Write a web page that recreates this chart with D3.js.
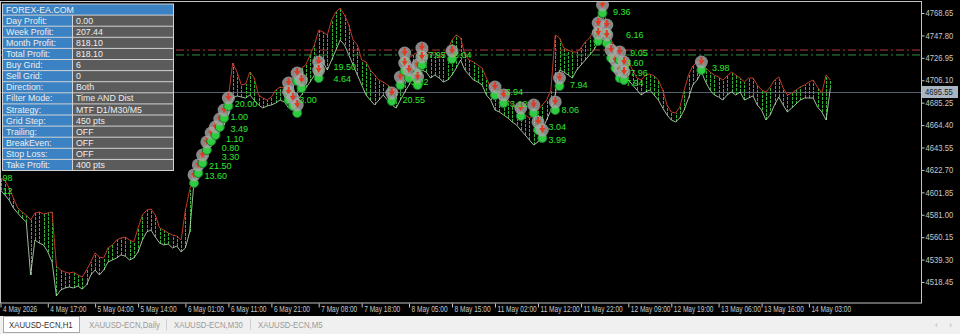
<!DOCTYPE html>
<html>
<head>
<meta charset="utf-8">
<script src="https://cdn.jsdelivr.net/npm/d3@7"></script>
<style>
body { margin: 0; background: #000; }
svg { display: block; }
.ax text { font-family: 'Liberation Sans', Arial, sans-serif; font-size: 8.5px; fill: #c8c8c8; }
</style>
</head>
<body>
<div id="chart"></div>
<script>
var sessions = [
  ['4 May', 6, 23], ['5 May', 0, 23], ['6 May', 0, 23], ['7 May', 0, 23], ['8 May', 0, 23],
  ['11 May', 1, 23], ['12 May', 0, 23], ['13 May', 0, 23], ['14 May', 0, 8]
]

var highs = [
  4615.2, 4613.3, 4605.9, 4596.6, 4587.3, 4583.6, 4580.8, 4576.1, 4582.6, 4583.6,
  4581.7, 4582.6, 4583.6, 4533.3, 4529.6, 4527.7, 4526.8, 4527.7, 4525.0, 4523.1,
  4529.6, 4537.0, 4545.4, 4541.7, 4540.8, 4550.1, 4552.9, 4557.5, 4559.4, 4560.3,
  4557.5, 4555.7, 4568.7, 4580.8, 4585.4, 4586.3, 4580.8, 4568.7, 4566.8, 4564.0,
  4562.2, 4561.2, 4557.5, 4585.4, 4604.0, 4622.6, 4627.3, 4641.2, 4650.5, 4659.8,
  4667.3, 4671.0, 4680.3, 4690.5, 4722.1, 4713.8, 4701.7, 4702.6, 4713.8, 4708.2,
  4692.4, 4689.6, 4687.7, 4690.5, 4697.0, 4699.8, 4698.9, 4701.7, 4706.3, 4715.6,
  4717.5, 4720.3, 4729.6, 4738.9, 4752.8, 4751.0, 4748.2, 4762.1, 4769.6, 4773.3,
  4766.8, 4757.5, 4743.5, 4738.9, 4724.9, 4723.1, 4715.6, 4711.0, 4706.3, 4704.5,
  4701.7, 4698.9, 4695.2, 4706.3, 4715.6, 4726.8, 4729.6, 4732.4, 4736.1, 4734.2,
  4729.6, 4732.4, 4726.8, 4729.6, 4734.2, 4743.5, 4748.2, 4745.4, 4729.6, 4724.9,
  4723.1, 4720.3, 4717.5, 4708.2, 4698.9, 4695.2, 4692.4, 4689.6, 4687.7, 4683.1,
  4680.3, 4676.6, 4673.8, 4671.0, 4673.8, 4678.4, 4683.1, 4687.7, 4697.0, 4748.2,
  4745.4, 4736.1, 4734.2, 4732.4, 4732.4, 4736.1, 4741.7, 4745.4, 4752.8, 4766.8,
  4776.1, 4757.5, 4743.5, 4736.1, 4732.4, 4726.8, 4723.1, 4715.6, 4708.2, 4706.3,
  4711.0, 4711.9, 4710.1, 4706.3, 4697.0, 4683.1, 4676.6, 4675.6, 4681.2, 4697.0,
  4711.0, 4719.4, 4723.1, 4724.9, 4717.5, 4713.8, 4711.0, 4709.1, 4706.3, 4710.1,
  4713.8, 4711.0, 4708.2, 4704.5, 4708.2, 4708.2, 4701.7, 4697.0, 4695.2, 4699.8,
  4706.3, 4709.1, 4698.9, 4692.4, 4694.2, 4697.0, 4699.8, 4701.7, 4704.5, 4706.3,
  4699.8, 4694.2, 4711.0, 4706.3
]

var lows = [
  4604.0, 4599.4, 4594.7, 4587.3, 4582.6, 4578.0, 4574.3, 4525.0, 4557.5, 4554.7,
  4552.9, 4546.4, 4537.0, 4505.4, 4511.0, 4512.9, 4513.8, 4512.9, 4514.7, 4511.9,
  4515.7, 4525.0, 4529.6, 4525.0, 4529.6, 4537.0, 4538.9, 4540.8, 4543.6, 4542.6,
  4538.9, 4540.8, 4546.4, 4557.5, 4565.0, 4566.8, 4560.3, 4554.7, 4552.9, 4553.8,
  4550.1, 4551.9, 4546.4, 4550.1, 4565.0, 4611.5, 4617.0, 4627.3, 4636.6, 4644.9,
  4650.5, 4658.0, 4664.5, 4673.8, 4689.6, 4691.5, 4690.5, 4689.6, 4692.4, 4687.7,
  4683.1, 4680.3, 4682.2, 4683.1, 4684.9, 4687.7, 4685.9, 4680.3, 4683.1, 4687.7,
  4692.4, 4698.9, 4704.5, 4711.0, 4720.3, 4723.1, 4715.6, 4724.9, 4734.2, 4743.5,
  4738.9, 4729.6, 4720.3, 4711.0, 4701.7, 4692.4, 4687.7, 4683.1, 4687.7, 4692.4,
  4687.7, 4683.1, 4680.3, 4687.7, 4695.2, 4701.7, 4708.2, 4711.0, 4715.6, 4713.8,
  4708.2, 4711.0, 4708.2, 4704.5, 4706.3, 4711.0, 4717.5, 4724.9, 4715.6, 4711.0,
  4706.3, 4704.5, 4701.7, 4692.4, 4687.7, 4678.4, 4676.6, 4673.8, 4671.0, 4667.3,
  4664.5, 4659.8, 4655.2, 4650.5, 4645.9, 4648.7, 4659.8, 4669.1, 4678.4, 4692.4,
  4715.6, 4713.8, 4711.0, 4708.2, 4715.6, 4720.3, 4724.9, 4729.6, 4734.2, 4741.7,
  4748.2, 4743.5, 4729.6, 4724.9, 4715.6, 4711.0, 4706.3, 4701.7, 4697.0, 4692.4,
  4695.2, 4697.0, 4692.4, 4687.7, 4680.3, 4673.8, 4669.1, 4667.3, 4671.0, 4678.4,
  4689.6, 4701.7, 4706.3, 4713.8, 4704.5, 4697.0, 4692.4, 4690.5, 4687.7, 4692.4,
  4695.2, 4692.4, 4695.2, 4687.7, 4689.6, 4691.5, 4683.1, 4678.4, 4669.1, 4673.8,
  4683.1, 4690.5, 4683.1, 4676.6, 4680.3, 4684.0, 4687.7, 4689.6, 4689.6, 4689.6,
  4681.2, 4676.6, 4669.1, 4698.9
]

var priceTicks = [4768.65, 4747.80, 4726.95, 4706.10, 4685.25, 4664.40, 4643.55, 4622.70, 4601.85, 4581.00, 4560.15, 4539.30, 4518.45]

var timeTicks = ['4 May 06:00', '4 May 17:00', '5 May 04:00', '5 May 14:00', '6 May 01:00', '6 May 11:00', '6 May 21:00',
  '7 May 08:00', '7 May 18:00', '8 May 05:00', '8 May 15:00', '11 May 02:00', '11 May 12:00', '11 May 22:00',
  '12 May 09:00', '12 May 19:00', '13 May 06:00', '13 May 16:00', '14 May 03:00']
var firstTickLabel = '4 May 2026'

var bidPrice = 4695.55
var buyLevel = 4734.2
var sellLevel = 4729.6

// trade arrows: [bar index, price]
var markers = [
  [45, 4618.0], [46, 4627.3], [47, 4636.6], [48, 4648.7], [49, 4657.0], [50, 4662.6], [51, 4670.0], [52, 4678.4], [53, 4689.6],
  [67, 4703.5], [67, 4695.2], [68, 4689.6], [69, 4683.1], [69, 4712.8], [70, 4706.3], [74, 4723.1], [74, 4715.6],
  [91, 4694.2], [93, 4709.1], [94, 4731.4], [94, 4722.1], [95, 4715.6], [97, 4720.3], [97, 4709.1], [98, 4736.1], [98, 4727.7], [105, 4733.3],
  [115, 4699.8], [117, 4692.4], [121, 4680.3], [124, 4683.1], [125, 4667.3], [126, 4659.8], [129, 4685.9], [130, 4708.2],
  [139, 4759.3], [139, 4750.0], [140, 4776.1], [141, 4757.5], [141, 4748.2], [142, 4734.2], [143, 4724.9], [144, 4732.4],
  [144, 4715.6], [145, 4723.1], [145, 4713.8],
  [163, 4723.1]
]

// price texts next to the arrows: [bar index, price, text]
var tradeLabels = [
  [0, 4615.2, '98'], [0, 4603.0, '12'],
  [48, 4626.3, '21.50'], [47, 4617.0, '13.60'], [51, 4643.1, '0.80'], [51, 4634.7, '3.30'], [52, 4651.5, '1.10'],
  [53, 4660.7, '3.49'], [53, 4671.9, '1.00'], [54, 4684.0, '20.00'],
  [69, 4687.7, '3.00'], [77, 4718.5, '19.50'], [77, 4707.0, '4.64'],
  [93, 4687.7, '20.55'], [95, 4704.5, '3.02'], [99, 4729.6, '7.95'], [105, 4729.6, '8.04'],
  [117, 4695.2, '3.94'], [118, 4684.0, '3.12'], [130, 4678.4, '8.06'], [127, 4662.6, '3.04'], [127, 4650.5, '3.99'], [132, 4701.7, '7.94'],
  [142, 4769.6, '9.36'], [145, 4748.2, '6.16'], [146, 4731.4, '9.05'], [145, 4722.1, '3.60'], [146, 4712.8, '7.96'], [145, 4703.5, '7.94'],
  [165, 4717.5, '3.98']
]

var panelTitle = 'FOREX-EA.COM'
var panelLabels = ['Day Profit:', 'Week Profit:', 'Month Profit:', 'Total Profit:', 'Buy Grid:', 'Sell Grid:', 'Direction:',
  'Filter Mode:', 'Strategy:', 'Grid Step:', 'Trailing:', 'BreakEven:', 'Stop Loss:', 'Take Profit:']
var panelValues = ['0.00', '207.44', '818.10', '818.10', '6', '0', 'Both', 'Time AND Dist', 'MTF D1/M30/M5', '450 pts',
  'OFF', 'OFF', 'OFF', '400 pts']

var tabs = ['XAUUSD-ECN,H1', 'XAUUSD-ECN,Daily', 'XAUUSD-ECN,M30', 'XAUUSD-ECN,M5']

var times = []
sessions.forEach(function(s) {
  for (var h = s[1]; h <= s[2]; h++) times.push(s[0] + ' ' + (h < 10 ? '0' : '') + h + ':00')
})

var W = 960, H = 334
var plotR = 921, plotB = 303

// squeeze text to look like the narrow terminal font
function narrow(sel, k) {
  sel.each(function() {
    var len = this.getComputedTextLength()
    if (len > 0) d3.select(this).attr('textLength', len * k).attr('lengthAdjust', 'spacingAndGlyphs')
  })
}

var svg = d3.select('#chart').append('svg').attr('width', W).attr('height', H)
svg.append('rect').attr('width', W).attr('height', H).attr('fill', '#000')

var x = d3.scalePoint().domain(times).range([0.5, 0.5 + (times.length - 1) * 4.3])
var y = d3.scaleLinear().domain([4518.45, 4768.65]).range([282, 13])

svg.append('clipPath').attr('id', 'plot').append('rect')
  .attr('x', 1).attr('y', 2).attr('width', plotR - 1).attr('height', plotB - 2)

var g = svg.append('g').attr('clip-path', 'url(#plot)')

// bid line
g.append('line').attr('x1', 0).attr('x2', plotR).attr('y1', Math.round(y(bidPrice)) + 0.5).attr('y2', Math.round(y(bidPrice)) + 0.5)
  .attr('stroke', '#56606c').attr('stroke-width', 1)

// bars
g.selectAll('line.bar').data(times).enter().append('line').attr('class', 'bar')
  .attr('x1', function(d) { return Math.round(x(d)) + 0.5 })
  .attr('x2', function(d) { return Math.round(x(d)) + 0.5 })
  .attr('y1', function(d, i) { return y(lows[i]) })
  .attr('y2', function(d, i) { return y(highs[i]) })
  .attr('stroke', '#2fb52f').attr('stroke-width', 1).attr('stroke-dasharray', '3,1')

var priceLine = d3.line().x(function(d, i) { return x(times[i]) }).y(function(d) { return y(d) })
g.append('path').attr('d', priceLine(lows)).attr('fill', 'none').attr('stroke', '#b9d9b9').attr('stroke-width', 1).attr('opacity', 0.85)
g.append('path').attr('d', priceLine(highs)).attr('fill', 'none').attr('stroke', '#c0392b').attr('stroke-width', 1)

// grid levels
g.append('line').attr('x1', 0).attr('x2', plotR).attr('y1', y(buyLevel)).attr('y2', y(buyLevel))
  .attr('stroke', '#b23a3a').attr('stroke-dasharray', '8,3,2,3')
g.append('line').attr('x1', 0).attr('x2', plotR).attr('y1', y(sellLevel)).attr('y2', y(sellLevel))
  .attr('stroke', '#2f8f3f').attr('stroke-dasharray', '8,3,2,3')

// trade markers
var mk = g.selectAll('g.mk').data(markers).enter().append('g').attr('class', 'mk')
  .attr('transform', function(d) { return 'translate(' + x(times[d[0]]) + ',' + y(d[1]) + ')' })
mk.append('circle').attr('cy', 8).attr('r', 4.5).attr('fill', '#2ecc40').attr('stroke', '#1d7d2a')
mk.append('circle').attr('r', 6.5).attr('fill', '#a8a8a8').attr('opacity', 0.8)
mk.append('path').attr('d', 'M-3,-2L3,-2L0,3Z M-1,-5L1,-5L1,-2L-1,-2Z').attr('fill', '#e23a22')

g.selectAll('text.tl').data(tradeLabels).enter().append('text').attr('class', 'tl')
  .attr('x', function(d) { return x(times[d[0]]) + 2 })
  .attr('y', function(d) { return y(d[1]) })
  .attr('dy', '0.35em')
  .attr('font-family', 'Liberation Sans, Arial, sans-serif').attr('font-size', 9).attr('fill', '#2fe82f')
  .text(function(d) { return d[2] })

// frame
svg.append('rect').attr('x', 0.5).attr('y', 1.5).attr('width', plotR).attr('height', plotB - 1.5)
  .attr('fill', 'none').attr('stroke', '#c4c4c4')

// price axis
var ya = svg.append('g').attr('class', 'ax').attr('transform', 'translate(' + (plotR + 0.5) + ',0)')
  .call(d3.axisRight(y).tickValues(priceTicks).tickSize(3).tickPadding(1).tickFormat(d3.format('.2f')))
ya.select('.domain').remove()
ya.selectAll('line').attr('stroke', '#c4c4c4')
narrow(ya.selectAll('text'), 0.9)

var by = Math.round(y(bidPrice))
svg.append('rect').attr('x', plotR + 1).attr('y', by - 6).attr('width', 36).attr('height', 12).attr('fill', '#a9b5c3')
svg.append('text').attr('x', plotR + 4).attr('y', by).attr('dy', '0.35em')
  .attr('font-family', 'Liberation Sans, Arial, sans-serif').attr('font-size', 8.5)
  .attr('fill', '#1a1a1a').text(d3.format('.2f')(bidPrice))
  .call(narrow, 0.9)

// time axis
var xa = svg.append('g').attr('class', 'ax').attr('transform', 'translate(0,' + (plotB + 0.5) + ')')
  .call(d3.axisBottom(x).tickValues(timeTicks).tickSize(4).tickPadding(1)
    .tickFormat(function(d, i) { return i === 0 ? firstTickLabel : d }))
xa.select('.domain').remove()
xa.selectAll('line').attr('stroke', '#c4c4c4')
xa.selectAll('text').attr('text-anchor', 'start').attr('dx', 2).attr('y', 3).style('font-size', '8.2px')
narrow(xa.selectAll('text'), 0.8)

// info panel
var panel = svg.append('g')
var rowH = 11.1, panelTop = 4.5, px0 = 3, pSplit = 72, px1 = 173
panel.append('rect').attr('x', px0 - 1).attr('y', panelTop - 1).attr('width', px1 - px0 + 2).attr('height', rowH * 15 + 1).attr('fill', '#d2d2d2')
panel.append('rect').attr('x', px0).attr('y', panelTop).attr('width', px1 - px0).attr('height', rowH - 1).attr('fill', '#3b82c4')
panel.append('text').attr('x', px0 + 3).attr('y', panelTop + rowH / 2 - 0.5).attr('dy', '0.35em').text(panelTitle)
var rows = panel.selectAll('g.row').data(panelLabels).enter().append('g').attr('class', 'row')
  .attr('transform', function(d, i) { return 'translate(0,' + (panelTop + rowH * (i + 1)) + ')' })
rows.append('rect').attr('x', px0).attr('width', pSplit - px0).attr('height', rowH - 1).attr('fill', '#3b82c4')
rows.append('rect').attr('x', pSplit + 1).attr('width', px1 - pSplit - 1).attr('height', rowH - 1).attr('fill', '#5b5b5b')
rows.append('text').attr('x', px0 + 3).attr('y', rowH / 2 - 0.5).attr('dy', '0.35em').text(function(d) { return d })
rows.append('text').attr('x', pSplit + 4).attr('y', rowH / 2 - 0.5).attr('dy', '0.35em').text(function(d, i) { return panelValues[i] })
panel.selectAll('text').attr('font-family', 'Liberation Sans, Arial, sans-serif').attr('font-size', 8.8).attr('fill', '#eeeeee')

// tab bar
var tb = svg.append('g').attr('transform', 'translate(0,316)')
tb.append('rect').attr('width', W).attr('height', H - 316).attr('fill', '#f0f0f0')
var tabX = [3, 83, 168, 252], tabW = [76, 82, 82, 74]
tb.append('rect').attr('x', tabX[0] + 0.5).attr('y', 0.5).attr('width', tabW[0]).attr('height', 16).attr('fill', '#fff').attr('stroke', '#a8a8a8')
tb.selectAll('text.tab').data(tabs).enter().append('text').attr('class', 'tab')
  .attr('x', function(d, i) { return tabX[i] + 6 }).attr('y', 12)
  .attr('font-family', 'Liberation Sans, Arial, sans-serif').attr('font-size', 9.5)
  .attr('fill', function(d, i) { return i === 0 ? '#333' : '#9a9a9a' })
  .text(function(d) { return d })
  .call(narrow, 0.82)
;[166, 250].forEach(function(sx) {
  tb.append('line').attr('x1', sx + 0.5).attr('x2', sx + 0.5).attr('y1', 3).attr('y2', 14).attr('stroke', '#cfcfcf')
})
tb.append('text').attr('x', 935).attr('y', 12).attr('font-size', 9).attr('fill', '#b0b0b0').attr('font-family', 'Liberation Sans, sans-serif').text('‹')
tb.append('text').attr('x', 949).attr('y', 12).attr('font-size', 9).attr('fill', '#b0b0b0').attr('font-family', 'Liberation Sans, sans-serif').text('›')
</script>
</body>
</html>
